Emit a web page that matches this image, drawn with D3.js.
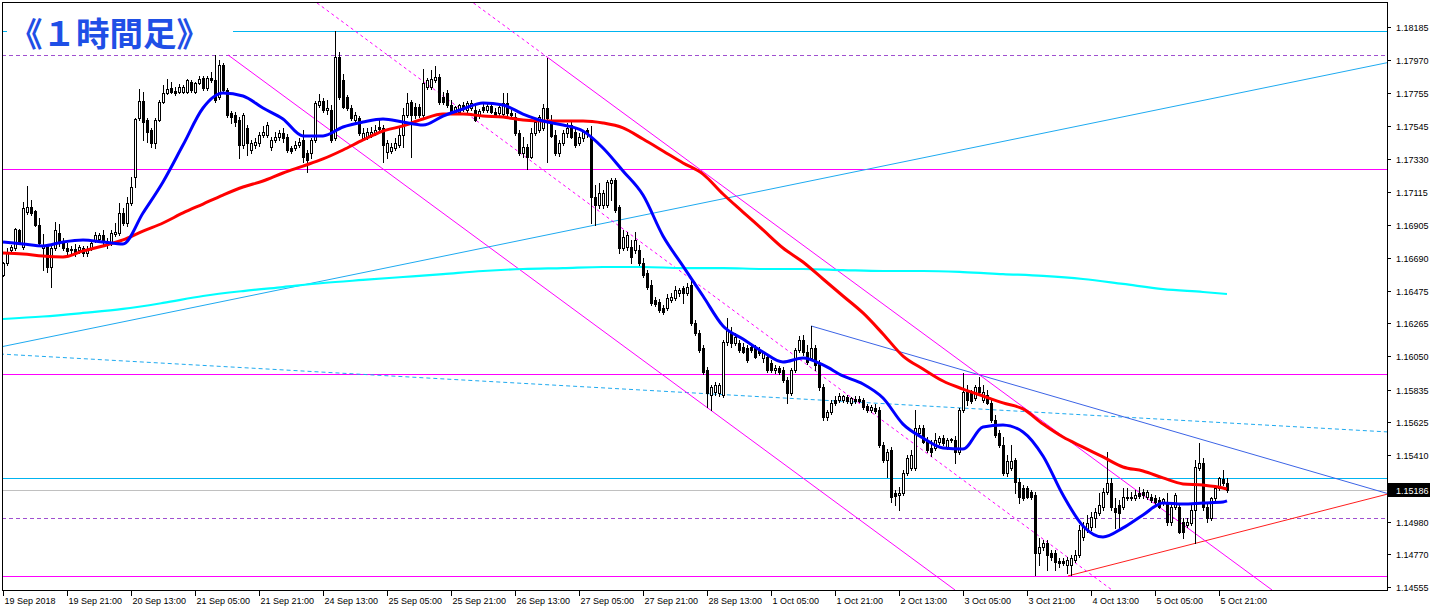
<!DOCTYPE html>
<html><head><meta charset="utf-8">
<script src="https://cdn.jsdelivr.net/npm/d3@7"></script>
<style>html,body{margin:0;padding:0;background:#fff}svg{display:block}</style>
</head><body>
<script>
// ---------- DATA (EURUSD H1, 307 bars) ----------
const barOpen=[
1.16578,1.16656,1.16740,1.16753,1.16870,1.16759,1.16986,1.17019,1.16993,1.16902,
1.16753,1.16766,1.16630,1.16753,1.16850,1.16798,1.16753,1.16746,1.16746,1.16740,
1.16753,1.16721,1.16753,1.16805,1.16811,1.16837,1.16798,1.16785,1.16844,1.16850,
1.16980,1.16915,1.17045,1.17213,1.17595,1.17706,1.17582,1.17518,1.17433,1.17582,
1.17699,1.17757,1.17790,1.17770,1.17764,1.17764,1.17764,1.17829,1.17764,1.17822,
1.17855,1.17790,1.17855,1.17842,1.17731,1.17939,1.17777,1.17628,1.17615,1.17582,
1.17420,1.17531,1.17388,1.17420,1.17433,1.17485,1.17485,1.17407,1.17453,1.17472,
1.17498,1.17472,1.17401,1.17401,1.17420,1.17453,1.17369,1.17369,1.17453,1.17680,
1.17706,1.17647,1.17647,1.17466,1.17991,1.17842,1.17731,1.17660,1.17582,1.17595,
1.17466,1.17472,1.17485,1.17498,1.17537,1.17531,1.17375,1.17382,1.17401,1.17420,
1.17485,1.17615,1.17699,1.17667,1.17667,1.17615,1.17796,1.17796,1.17842,1.17861,
1.17731,1.17757,1.17680,1.17634,1.17634,1.17680,1.17647,1.17660,1.17647,1.17615,
1.17667,1.17647,1.17673,1.17634,1.17628,1.17621,1.17693,1.17628,1.17602,1.17498,
1.17369,1.17407,1.17343,1.17498,1.17518,1.17531,1.17660,1.17569,1.17485,1.17369,
1.17433,1.17498,1.17550,1.17505,1.17433,1.17466,1.17518,1.17466,1.17083,1.17032,
1.17032,1.17032,1.17174,1.17194,1.17019,1.16753,1.16759,1.16759,1.16740,1.16740,
1.16656,1.16591,1.16513,1.16416,1.16403,1.16364,1.16364,1.16416,1.16429,1.16461,
1.16494,1.16461,1.16513,1.16267,1.16202,1.16105,1.15962,1.15800,1.15820,1.15813,
1.15800,1.16144,1.16209,1.16137,1.16137,1.16111,1.16105,1.16111,1.16105,1.16092,
1.16040,1.16047,1.16008,1.15962,1.15975,1.15962,1.15898,1.15813,1.15962,1.16092,
1.16157,1.16079,1.16040,1.16105,1.16008,1.15852,1.15658,1.15690,1.15768,1.15768,
1.15768,1.15787,1.15749,1.15774,1.15774,1.15768,1.15729,1.15703,1.15716,1.15703,
1.15476,1.15379,1.15444,1.15165,1.15152,1.15165,1.15295,1.15327,1.15327,1.15554,
1.15587,1.15509,1.15457,1.15457,1.15496,1.15522,1.15463,1.15509,1.15509,1.15431,
1.15703,1.15820,1.15813,1.15781,1.15852,1.15768,1.15800,1.15749,1.15638,1.15554,
1.15476,1.15295,1.15327,1.15379,1.15237,1.15198,1.15198,1.15172,1.15152,1.14777,
1.14815,1.14841,1.14777,1.14777,1.14725,1.14725,1.14699,1.14699,1.14731,1.14764,
1.14880,1.14926,1.14945,1.15003,1.15036,1.15075,1.15172,1.15230,1.15068,1.15088,
1.15075,1.15133,1.15133,1.15133,1.15165,1.15172,1.15139,1.15139,1.15133,1.15120,
1.15101,1.15101,1.14977,1.15075,1.15075,1.14977,1.14958,1.14971,1.15055,1.15327,
1.15360,1.15075,1.15003,1.15133,1.15198,1.15256,1.15230];
const barHigh=[
1.16662,1.16753,1.16772,1.16883,1.16876,1.17051,1.17155,1.17064,1.16999,1.16947,
1.16844,1.16779,1.16766,1.16921,1.16908,1.16818,1.16785,1.16766,1.16779,1.16772,
1.16766,1.16766,1.16798,1.16857,1.16850,1.16870,1.16818,1.16870,1.16915,1.17045,
1.17012,1.17083,1.17213,1.17595,1.17783,1.17764,1.17595,1.17531,1.17595,1.17712,
1.17809,1.17848,1.17829,1.17796,1.17816,1.17809,1.17848,1.17842,1.17829,1.17868,
1.17868,1.17868,1.17893,1.18004,1.17971,1.17952,1.17790,1.17641,1.17634,1.17602,
1.17628,1.17550,1.17453,1.17466,1.17505,1.17544,1.17569,1.17472,1.17505,1.17518,
1.17531,1.17492,1.17414,1.17446,1.17466,1.17518,1.17388,1.17466,1.17706,1.17751,
1.17725,1.17712,1.17680,1.18159,1.18023,1.17880,1.17744,1.17680,1.17634,1.17608,
1.17531,1.17531,1.17537,1.17550,1.17582,1.17550,1.17453,1.17433,1.17466,1.17531,
1.17660,1.17757,1.17712,1.17693,1.17686,1.17913,1.17855,1.17906,1.17932,1.17880,
1.17764,1.17777,1.17712,1.17673,1.17686,1.17699,1.17706,1.17712,1.17686,1.17654,
1.17686,1.17693,1.17693,1.17660,1.17686,1.17757,1.17757,1.17647,1.17628,1.17518,
1.17472,1.17427,1.17531,1.17595,1.17615,1.17686,1.17984,1.17615,1.17518,1.17453,
1.17518,1.17563,1.17582,1.17531,1.17498,1.17518,1.17531,1.17544,1.17161,1.17174,
1.17129,1.17194,1.17207,1.17207,1.17032,1.16870,1.16857,1.16805,1.16857,1.16772,
1.16688,1.16610,1.16546,1.16435,1.16422,1.16384,1.16455,1.16461,1.16507,1.16494,
1.16507,1.16526,1.16539,1.16286,1.16222,1.16124,1.15982,1.15865,1.15885,1.15878,
1.16157,1.16299,1.16241,1.16202,1.16157,1.16137,1.16124,1.16137,1.16124,1.16111,
1.16079,1.16066,1.16027,1.15995,1.15988,1.15982,1.15917,1.15975,1.16105,1.16183,
1.16189,1.16124,1.16248,1.16124,1.16027,1.15872,1.15703,1.15768,1.15794,1.15813,
1.15800,1.15800,1.15787,1.15794,1.15794,1.15781,1.15742,1.15736,1.15742,1.15723,
1.15496,1.15450,1.15463,1.15185,1.15204,1.15314,1.15412,1.15444,1.15703,1.15606,
1.15606,1.15528,1.15509,1.15554,1.15535,1.15541,1.15522,1.15522,1.15535,1.15716,
1.15943,1.15865,1.15833,1.15865,1.15917,1.15865,1.15833,1.15781,1.15671,1.15574,
1.15528,1.15412,1.15476,1.15392,1.15263,1.15217,1.15211,1.15185,1.15172,1.14874,
1.14861,1.14861,1.14796,1.14796,1.14744,1.14744,1.14751,1.14764,1.14796,1.14958,
1.14977,1.15023,1.15042,1.15068,1.15165,1.15198,1.15431,1.15263,1.15133,1.15120,
1.15198,1.15198,1.15172,1.15185,1.15204,1.15191,1.15185,1.15159,1.15152,1.15139,
1.15133,1.15165,1.15088,1.15165,1.15101,1.15003,1.15003,1.15088,1.15379,1.15489,
1.15392,1.15107,1.15139,1.15217,1.15269,1.15314,1.15263];
const barLow=[
1.16572,1.16643,1.16727,1.16740,1.16779,1.16746,1.16973,1.16967,1.16896,1.16772,
1.16610,1.16597,1.16500,1.16740,1.16766,1.16740,1.16701,1.16714,1.16701,1.16721,
1.16701,1.16701,1.16740,1.16792,1.16798,1.16779,1.16753,1.16772,1.16831,1.16837,
1.16902,1.16896,1.17032,1.17148,1.17582,1.17453,1.17440,1.17407,1.17401,1.17576,
1.17693,1.17751,1.17757,1.17744,1.17757,1.17757,1.17757,1.17764,1.17757,1.17816,
1.17777,1.17777,1.17829,1.17699,1.17718,1.17764,1.17602,1.17563,1.17544,1.17336,
1.17401,1.17356,1.17369,1.17401,1.17414,1.17472,1.17472,1.17388,1.17440,1.17453,
1.17440,1.17375,1.17369,1.17388,1.17407,1.17310,1.17245,1.17336,1.17440,1.17667,
1.17634,1.17621,1.17440,1.17453,1.17718,1.17660,1.17647,1.17582,1.17569,1.17485,
1.17453,1.17459,1.17472,1.17485,1.17518,1.17310,1.17336,1.17369,1.17388,1.17407,
1.17407,1.17602,1.17343,1.17595,1.17602,1.17602,1.17783,1.17783,1.17829,1.17686,
1.17686,1.17667,1.17621,1.17621,1.17628,1.17641,1.17634,1.17647,1.17576,1.17595,
1.17634,1.17634,1.17628,1.17602,1.17615,1.17608,1.17602,1.17602,1.17485,1.17356,
1.17343,1.17265,1.17336,1.17485,1.17505,1.17518,1.17310,1.17472,1.17356,1.17349,
1.17420,1.17472,1.17466,1.17407,1.17420,1.17446,1.17472,1.16915,1.16902,1.17012,
1.17012,1.17019,1.17064,1.16986,1.16721,1.16740,1.16740,1.16656,1.16721,1.16643,
1.16565,1.16487,1.16384,1.16377,1.16338,1.16325,1.16351,1.16403,1.16416,1.16442,
1.16397,1.16448,1.16254,1.16189,1.16079,1.15936,1.15723,1.15703,1.15800,1.15794,
1.15787,1.16124,1.16111,1.16124,1.16079,1.16073,1.16014,1.16079,1.16040,1.16060,
1.16014,1.15949,1.15949,1.15943,1.15936,1.15885,1.15749,1.15800,1.15949,1.16079,
1.16060,1.16001,1.16027,1.15962,1.15833,1.15638,1.15638,1.15677,1.15736,1.15755,
1.15755,1.15749,1.15736,1.15749,1.15755,1.15710,1.15690,1.15690,1.15684,1.15463,
1.15366,1.15269,1.15107,1.15088,1.15055,1.15152,1.15282,1.15314,1.15314,1.15541,
1.15489,1.15431,1.15405,1.15444,1.15483,1.15476,1.15450,1.15496,1.15360,1.15418,
1.15690,1.15736,1.15749,1.15768,1.15807,1.15755,1.15742,1.15625,1.15528,1.15463,
1.15282,1.15276,1.15314,1.15165,1.15101,1.15120,1.15133,1.15126,1.14634,1.14699,
1.14796,1.14666,1.14731,1.14666,1.14686,1.14699,1.14647,1.14634,1.14718,1.14751,
1.14861,1.14913,1.14926,1.14945,1.15023,1.15055,1.15159,1.15055,1.14939,1.14926,
1.15062,1.15120,1.15120,1.15120,1.15133,1.15133,1.15126,1.15107,1.15088,1.15068,
1.15088,1.14958,1.14958,1.15062,1.14906,1.14874,1.14945,1.14958,1.14841,1.15314,
1.15055,1.14977,1.14990,1.15120,1.15185,1.15217,1.15172];
const barClose=[
1.16656,1.16721,1.16759,1.16876,1.16792,1.17012,1.17019,1.16980,1.16902,1.16785,
1.16766,1.16630,1.16753,1.16870,1.16798,1.16753,1.16734,1.16740,1.16727,1.16759,
1.16721,1.16746,1.16785,1.16837,1.16837,1.16792,1.16772,1.16850,1.16857,1.16980,
1.16915,1.17045,1.17148,1.17589,1.17706,1.17569,1.17505,1.17433,1.17582,1.17699,
1.17757,1.17783,1.17764,1.17757,1.17796,1.17796,1.17842,1.17777,1.17822,1.17848,
1.17790,1.17855,1.17842,1.17712,1.17939,1.17777,1.17615,1.17602,1.17569,1.17420,
1.17615,1.17433,1.17433,1.17440,1.17485,1.17505,1.17550,1.17453,1.17472,1.17498,
1.17466,1.17388,1.17382,1.17420,1.17440,1.17343,1.17323,1.17453,1.17693,1.17706,
1.17647,1.17660,1.17453,1.17991,1.17731,1.17667,1.17660,1.17595,1.17615,1.17498,
1.17498,1.17505,1.17505,1.17518,1.17524,1.17420,1.17433,1.17407,1.17433,1.17485,
1.17615,1.17693,1.17615,1.17615,1.17615,1.17822,1.17842,1.17848,1.17861,1.17699,
1.17699,1.17680,1.17634,1.17667,1.17680,1.17654,1.17693,1.17693,1.17582,1.17641,
1.17647,1.17673,1.17634,1.17615,1.17667,1.17693,1.17628,1.17615,1.17498,1.17369,
1.17407,1.17343,1.17498,1.17569,1.17602,1.17660,1.17595,1.17479,1.17369,1.17433,
1.17498,1.17531,1.17472,1.17420,1.17472,1.17505,1.17498,1.17083,1.17032,1.17109,
1.17109,1.17181,1.17194,1.16999,1.16753,1.16824,1.16837,1.16695,1.16805,1.16656,
1.16578,1.16500,1.16397,1.16390,1.16351,1.16338,1.16429,1.16435,1.16481,1.16481,
1.16461,1.16500,1.16267,1.16202,1.16092,1.15949,1.15813,1.15852,1.15865,1.15865,
1.16144,1.16222,1.16137,1.16176,1.16092,1.16079,1.16027,1.16092,1.16047,1.16073,
1.16073,1.15962,1.15962,1.15975,1.15949,1.15898,1.15813,1.15962,1.16092,1.16157,
1.16079,1.16014,1.16105,1.15995,1.15852,1.15658,1.15690,1.15749,1.15749,1.15794,
1.15794,1.15762,1.15781,1.15762,1.15762,1.15723,1.15703,1.15723,1.15697,1.15476,
1.15379,1.15431,1.15139,1.15146,1.15165,1.15295,1.15392,1.15412,1.15587,1.15587,
1.15496,1.15444,1.15431,1.15509,1.15522,1.15489,1.15509,1.15515,1.15431,1.15703,
1.15820,1.15768,1.15762,1.15852,1.15820,1.15820,1.15749,1.15638,1.15541,1.15476,
1.15295,1.15373,1.15373,1.15237,1.15139,1.15133,1.15139,1.15139,1.14777,1.14815,
1.14841,1.14764,1.14751,1.14718,1.14712,1.14712,1.14731,1.14744,1.14764,1.14926,
1.14945,1.14971,1.15010,1.15042,1.15088,1.15172,1.15230,1.15075,1.15042,1.15036,
1.15139,1.15139,1.15139,1.15152,1.15146,1.15152,1.15172,1.15120,1.15107,1.15075,
1.15126,1.14977,1.15075,1.15152,1.14913,1.14913,1.14977,1.15055,1.15334,1.15360,
1.15075,1.15003,1.15133,1.15198,1.15263,1.15230,1.15186];

// moving averages (sample bars)
const maBars=[0,5,10,15,20,25,30,35,40,45,50,55,60,65,70,75,80,85,90,95,100,105,110,115,120,125,130,135,140,145,150,155,160,165,170,175,180,185,190,195,200,205,210,215,220,225,230,235,240,245,250,255,260,265,270,275,280,285,290,295,300,305,306];
const maFast=[
1.16792,1.16779,1.16766,1.16792,1.16805,1.16792,1.16779,1.16980,1.17181,1.17420,
1.17660,1.17757,1.17738,1.17660,1.17589,1.17479,1.17479,1.17537,1.17569,1.17589,
1.17569,1.17550,1.17608,1.17654,1.17693,1.17680,1.17621,1.17576,1.17550,1.17511,
1.17401,1.17252,1.17096,1.16831,1.16636,1.16442,1.16248,1.16163,1.16079,1.16014,
1.16040,1.15995,1.15924,1.15872,1.15781,1.15612,1.15522,1.15457,1.15450,1.15593,
1.15606,1.15561,1.15405,1.15152,1.14952,1.14880,1.14939,1.15023,1.15101,1.15094,
1.15101,1.15107,1.15114];
const maMid=[
1.16721,1.16714,1.16701,1.16695,1.16734,1.16766,1.16805,1.16863,1.16915,1.16980,
1.17038,1.17096,1.17148,1.17187,1.17239,1.17284,1.17330,1.17388,1.17453,1.17511,
1.17544,1.17589,1.17621,1.17621,1.17608,1.17602,1.17582,1.17576,1.17576,1.17576,
1.17563,1.17531,1.17459,1.17382,1.17304,1.17232,1.17103,1.16986,1.16870,1.16753,
1.16662,1.16552,1.16442,1.16332,1.16196,1.16053,1.15969,1.15891,1.15839,1.15794,
1.15749,1.15710,1.15612,1.15528,1.15463,1.15399,1.15334,1.15308,1.15263,1.15224,
1.15217,1.15198,1.15191];
const maSlowBars=[0,10,20,30,40,50,60,70,80,90,100,110,120,130,140,150,160,170,180,190,200,210,220,230,240,250,260,270,280,290,300,306];
const maSlow=[
1.16293,1.16309,1.16332,1.16358,1.16397,1.16442,1.16474,1.16500,1.16526,1.16546,
1.16565,1.16584,1.16604,1.16617,1.16623,1.16630,1.16630,1.16623,1.16623,1.16617,
1.16617,1.16610,1.16604,1.16604,1.16597,1.16584,1.16572,1.16552,1.16520,1.16487,
1.16468,1.16455];

// axis labels
const timeTickBars=[0,16,32,48,64,80,96,112,128,144,160,176,192,208,224,240,256,272,288,304];
const timeTickLabels=["19 Sep 2018","19 Sep 21:00","20 Sep 13:00","21 Sep 05:00","21 Sep 21:00","24 Sep 13:00","25 Sep 05:00","25 Sep 21:00","26 Sep 13:00","27 Sep 05:00","27 Sep 21:00","28 Sep 13:00","1 Oct 05:00","1 Oct 21:00","2 Oct 13:00","3 Oct 05:00","3 Oct 21:00","4 Oct 13:00","5 Oct 05:00","5 Oct 21:00"];
const priceTicks=["1.18185","1.17970","1.17755","1.17545","1.17330","1.17115","1.16905","1.16690","1.16475","1.16265","1.16050","1.15835","1.15625","1.15410","1.14980","1.14770","1.14555"];
const bidPrice=1.15186;
const titleText="《１時間足》";

// drawn objects (bar position, price)
const levelsBlue=[1.18159,1.15263];
const levelsPurpleDash=[1.18004,1.15003];
const levelsMagenta=[1.17265,1.15936,1.14628];
const chanLower=[56.25,1.18004,238,1.14537];
const chanMiddle=[78.5,1.18341,277.25,1.14537];
const chanUpperDash=[117.6,1.18341,136,1.17991];
const chanUpper=[136,1.17991,317.25,1.14537];
const trendRise=[-0.75,1.16111,346.25,1.17955];
const trendDotted=[-0.75,1.16066,346.25,1.15561];
const trendBlue=[202,1.16248,346.25,1.15161];
const trendRed=[266.25,1.14628,346.25,1.15159];

// ---------- DRAW ----------
const W=1430,H=611, L=2, T=2, R=1387, B=590;
const x=d3.scaleLinear().domain([0,306]).range([3,1227]);
const y=d3.scaleLinear().domain([1.18360,1.145368]).range([0,590]);

const svg=d3.select("body").append("svg").attr("width",W).attr("height",H);
svg.append("rect").attr("width",W).attr("height",H).attr("fill","#fff");
svg.append("defs").append("clipPath").attr("id","plot")
  .append("rect").attr("x",L+1).attr("y",T+1).attr("width",R-L-1).attr("height",B-T-1);
const g=svg.append("g").attr("clip-path","url(#plot)");

function hline(p,color,dash){
  g.append("line").attr("x1",L).attr("x2",R).attr("y1",Math.round(y(p))+0.5).attr("y2",Math.round(y(p))+0.5)
   .attr("stroke",color).attr("stroke-width",1).attr("stroke-dasharray",dash||null).attr("shape-rendering","crispEdges");
}
function tline(a,color,dash,w){
  g.append("line").attr("x1",x(a[0])).attr("y1",y(a[1])).attr("x2",x(a[2])).attr("y2",y(a[3]))
   .attr("stroke",color).attr("stroke-width",w||1).attr("stroke-dasharray",dash||null);
}
levelsMagenta.forEach(p=>hline(p,"#ff00ff"));
levelsPurpleDash.forEach(p=>hline(p,"#a050d0","4,3"));
levelsBlue.forEach(p=>hline(p,"#00b4f0"));
hline(bidPrice,"#c0c0c0");

tline(trendRise,"#1eaaf0");
tline(trendDotted,"#1eaaf0","4,3");
tline(trendBlue,"#3c64e6");
tline(trendRed,"#ff1e1e");
tline(chanLower,"#ff00ff");
tline(chanMiddle,"#ff00ff","3,3");
tline(chanUpperDash,"#ff00ff","3,3");
tline(chanUpper,"#ff00ff");

// slow MA
const line=d3.line().curve(d3.curveMonotoneX);
g.append("path").attr("d",line(maSlowBars.map((b,k)=>[x(b),y(maSlow[k])])))
 .attr("fill","none").attr("stroke","#00ffff").attr("stroke-width",2.2);

// candles
const cg=g.append("g").attr("shape-rendering","crispEdges");
barOpen.forEach((o,i)=>{
  const c=barClose[i], cx=Math.round(x(i));
  const hi=Math.max(barHigh[i],o,c), lo=Math.min(barLow[i],o,c);
  const yh=Math.round(y(hi)), yl=Math.round(y(lo));
  cg.append("rect").attr("x",cx).attr("y",yh).attr("width",1).attr("height",Math.max(1,yl-yh+1)).attr("fill","#000");
  const yt=Math.round(y(Math.max(o,c))), yb=Math.round(y(Math.min(o,c)));
  const bh=Math.max(1,yb-yt+1);
  cg.append("rect").attr("x",cx-1).attr("y",yt).attr("width",3).attr("height",bh).attr("fill","#000");
  if(c>o && bh>2){
    cg.append("rect").attr("x",cx).attr("y",yt+1).attr("width",1).attr("height",bh-2).attr("fill","#fff");
  }
});

// fast & mid MA
g.append("path").attr("d",line(maBars.map((b,k)=>[x(b),y(maMid[k])])))
 .attr("fill","none").attr("stroke","#ff0000").attr("stroke-width",3);
g.append("path").attr("d",line(maBars.map((b,k)=>[x(b),y(maFast[k])])))
 .attr("fill","none").attr("stroke","#0000ff").attr("stroke-width",3);

// title
svg.append("rect").attr("x",7).attr("y",12).attr("width",226).attr("height",40).attr("fill","#fff");
svg.append("text").attr("x",9).attr("y",46).text(titleText)
 .attr("font-family","'Noto Sans CJK JP','Noto Sans CJK SC',sans-serif").attr("font-weight",700)
 .attr("font-size",33.5).attr("fill","#1f4fe6");

// frame
svg.append("rect").attr("x",L+0.5).attr("y",T+0.5).attr("width",R-L).attr("height",B-T)
 .attr("fill","none").attr("stroke","#000").attr("stroke-width",1).attr("shape-rendering","crispEdges");

// price axis
const fnt="'Liberation Sans',Arial,sans-serif";
const pa=svg.append("g").attr("shape-rendering","crispEdges");
priceTicks.forEach(t=>{
  const yy=Math.round(y(+t))+0.5;
  pa.append("line").attr("x1",R).attr("x2",R+4).attr("y1",yy).attr("y2",yy).attr("stroke","#000");
  svg.append("text").attr("x",1396).attr("y",yy).attr("dy","0.35em").text(t)
    .attr("font-family",fnt).attr("font-size",9).attr("fill","#000");
});
const by=Math.round(y(bidPrice));
svg.append("rect").attr("x",R+1).attr("y",by-7).attr("width",W-R-1).attr("height",14).attr("fill","#000");
svg.append("text").attr("x",1396).attr("y",by+0.5).attr("dy","0.35em").text(bidPrice.toFixed(5))
  .attr("font-family",fnt).attr("font-size",9).attr("fill","#fff");

// time axis
timeTickBars.forEach((b,k)=>{
  const xx=Math.round(x(b))+0.5;
  pa.append("line").attr("x1",xx).attr("x2",xx).attr("y1",B).attr("y2",B+6).attr("stroke","#000");
  svg.append("text").attr("x",xx+1).attr("y",604).text(timeTickLabels[k])
    .attr("font-family",fnt).attr("font-size",9).attr("fill","#000");
});
</script>
</body></html>
